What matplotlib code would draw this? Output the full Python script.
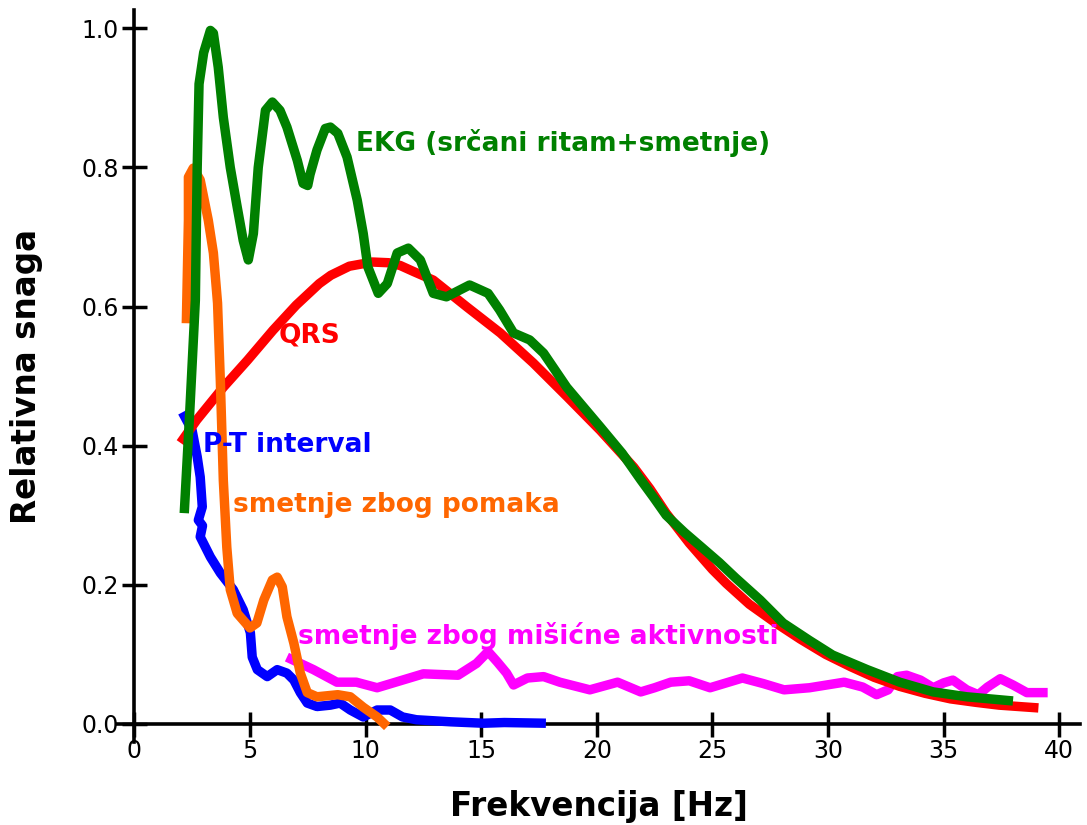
import matplotlib
matplotlib.use("Agg")
import matplotlib.pyplot as plt

# ---- data ----
ekg_x = [2.16, 2.4, 2.64, 2.72, 2.8, 3.0, 3.29, 3.42, 3.63, 3.85, 4.15, 4.45, 4.71, 4.93, 5.15, 5.36, 5.58,
         5.67, 5.97, 6.3, 6.6, 7.05, 7.3, 7.5, 7.6, 7.9, 8.26, 8.48, 8.8, 9.2, 9.64, 9.9, 10.1, 10.55, 10.94,
         11.37, 11.85, 12.37, 12.93, 13.5, 14.5, 15.3, 15.8, 16.4, 17.1, 17.7, 18.7, 20.15, 21.1, 21.9, 22.45,
         23.0, 23.8, 24.5, 25.3, 26.0, 27.07, 28.06, 29.2, 30.2, 31.7, 33.1, 34.55, 36.0, 38.0]
ekg_y = [0.303, 0.45, 0.609, 0.80, 0.92, 0.965, 0.997, 0.993, 0.944, 0.872, 0.80, 0.743, 0.695, 0.667, 0.705,
         0.80, 0.858, 0.882, 0.894, 0.882, 0.858, 0.81, 0.777, 0.774, 0.79, 0.825, 0.856, 0.858, 0.849, 0.815,
         0.753, 0.705, 0.657, 0.619, 0.633, 0.677, 0.684, 0.667, 0.619, 0.614, 0.631, 0.619, 0.595, 0.562, 0.552,
         0.533, 0.484, 0.427, 0.389, 0.351, 0.326, 0.30, 0.275, 0.255, 0.232, 0.21, 0.178, 0.145, 0.12, 0.099,
         0.078, 0.06, 0.046, 0.039, 0.033]

qrs_x = [2.0, 2.7, 3.85, 4.9, 6.0, 7.0, 8.0, 8.5, 9.3, 10.3, 11.0, 11.5, 12.1, 12.93, 14.4, 15.83, 17.25,
         18.73, 20.15, 21.6, 22.3, 23.0, 24.0, 25.0, 25.6, 26.6, 27.7, 28.8, 29.9, 31.0, 32.0, 33.1, 34.2,
         35.3, 36.4, 37.4, 39.1]
qrs_y = [0.404, 0.437, 0.484, 0.523, 0.566, 0.602, 0.633, 0.645, 0.658, 0.664, 0.663, 0.659, 0.65, 0.638,
         0.599, 0.562, 0.519, 0.47, 0.422, 0.369, 0.338, 0.303, 0.26, 0.222, 0.202, 0.172, 0.146, 0.122,
         0.1, 0.082, 0.067, 0.054, 0.044, 0.036, 0.031, 0.027, 0.023]

pt_x = [2.08, 2.5, 2.72, 2.85, 2.94, 2.77, 2.95, 2.85, 3.29, 3.72, 4.28, 4.71, 5.02, 5.1, 5.32, 5.75, 6.18,
        6.6, 6.9, 7.18, 7.48, 7.9, 8.48, 8.9, 9.34, 9.9, 10.5, 11.07, 11.6, 12.2, 13.7, 15.1, 16.0, 17.8]
pt_y = [0.448, 0.422, 0.384, 0.355, 0.312, 0.293, 0.285, 0.269, 0.24, 0.217, 0.193, 0.164, 0.131, 0.096, 0.078,
        0.068, 0.078, 0.073, 0.063, 0.045, 0.03, 0.025, 0.027, 0.03, 0.02, 0.01, 0.02, 0.02, 0.01, 0.006, 0.003,
        0.001, 0.002, 0.001]

mot_x = [2.25, 2.34, 2.34, 2.55, 2.85, 3.2, 3.42, 3.6, 3.72, 3.85, 4.0, 4.15, 4.45, 5.0, 5.3, 5.6, 5.97,
         6.18, 6.4, 6.6, 6.9, 7.18, 7.48, 7.9, 8.8, 9.34, 9.9, 10.5, 10.94]
mot_y = [0.576, 0.724, 0.786, 0.799, 0.782, 0.724, 0.677, 0.605, 0.494, 0.35, 0.254, 0.193, 0.159, 0.138, 0.145,
         0.178, 0.207, 0.211, 0.197, 0.154, 0.116, 0.073, 0.045, 0.039, 0.042, 0.039, 0.024, 0.01, -0.004]

mus_x = [6.6, 7.75, 8.76, 9.6, 10.5, 11.6, 12.5, 14.0, 14.8, 15.3, 15.7, 16.1, 16.4, 17.0, 17.7, 18.4, 19.7,
         20.9, 21.9, 22.5, 23.2, 24.0, 24.9, 26.3, 27.2, 28.1, 29.2, 30.7, 31.5, 32.1, 32.6, 33.0, 33.4, 34.0,
         34.55, 35.0, 35.4, 36.0, 36.5, 36.9, 37.45, 38.0, 38.6, 39.5]
mus_y = [0.096, 0.078, 0.06, 0.06, 0.052, 0.063, 0.072, 0.07, 0.087, 0.104, 0.089, 0.073, 0.056, 0.066, 0.068,
         0.06, 0.049, 0.06, 0.046, 0.052, 0.06, 0.062, 0.052, 0.066, 0.058, 0.049, 0.052, 0.06, 0.053, 0.042,
         0.049, 0.068, 0.07, 0.063, 0.052, 0.059, 0.063, 0.049, 0.042, 0.053, 0.065, 0.056, 0.045, 0.045]

x_ticks = [0, 5, 10, 15, 20, 25, 30, 35, 40]
y_ticks = [0.0, 0.2, 0.4, 0.6, 0.8, 1.0]

labels = ["EKG (srčani ritam+smetnje)", "QRS", "P-T interval", "smetnje zbog pomaka",
          "smetnje zbog mišićne aktivnosti"]
label_pos = [(9.6, 0.835), (6.23, 0.559), (2.98, 0.401), (4.28, 0.315), (7.09, 0.126)]
colors = ["#008000", "#ff0000", "#0000ff", "#ff6600", "#ff00ff"]

# ---- figure ----
fig = plt.figure(figsize=(10.87, 8.25), dpi=100)
ax = fig.add_axes([0.1076, 0.1006, 0.886, 0.887])

lw = 6.8
ax.plot(mus_x, mus_y, color=colors[4], lw=lw, solid_capstyle='butt', zorder=2)
ax.plot(pt_x, pt_y, color=colors[2], lw=lw, solid_capstyle='butt', zorder=3)
ax.plot(qrs_x, qrs_y, color=colors[1], lw=lw, solid_capstyle='butt', zorder=4)
ax.plot(mot_x, mot_y, color=colors[3], lw=lw, solid_capstyle='butt', zorder=5)
ax.plot(ekg_x, ekg_y, color=colors[0], lw=lw, solid_capstyle='butt', zorder=6)

for txt, (tx, ty), c in zip(labels, label_pos, colors):
    ax.text(tx, ty, txt, color=c, fontsize=19, fontweight='bold', ha='left', va='center', zorder=10)

ax.set_xlim(-0.75, 40.9)
ax.set_ylim(-0.026, 1.026)
ax.spines['left'].set_position(('data', 0))
ax.spines['bottom'].set_position(('data', 0))
ax.spines['right'].set_visible(False)
ax.spines['top'].set_visible(False)
for s in ('left', 'bottom'):
    ax.spines[s].set_linewidth(2.6)
    ax.spines[s].set_zorder(1)

ax.set_xticks(x_ticks)
ax.set_yticks(y_ticks)
ax.set_xticklabels([str(v) for v in x_ticks])
ax.set_yticklabels([f"{v:.1f}" for v in y_ticks])
ax.tick_params(direction='inout', length=18, width=2.5, labelsize=17, pad=2)

ax.set_xlabel("Frekvencija [Hz]", fontsize=23.5, fontweight='bold')
ax.set_ylabel("Relativna snaga", fontsize=23.5, fontweight='bold')
ax.xaxis.set_label_coords(0.5, -0.066)
ax.yaxis.set_label_coords(-0.077, 0.5)

fig.savefig("out.png", dpi=100)
